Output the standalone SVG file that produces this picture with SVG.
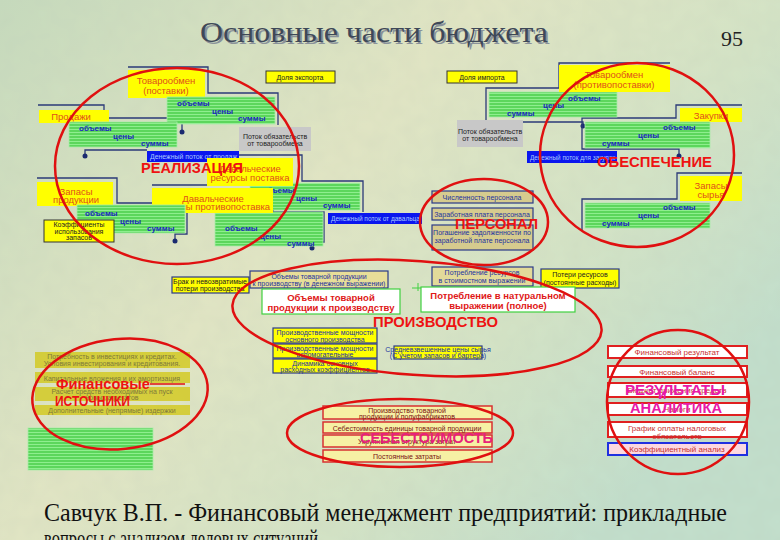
<svg xmlns="http://www.w3.org/2000/svg" width="780" height="540" viewBox="0 0 780 540">
<defs>
<linearGradient id="bg" x1="0" y1="0" x2="1" y2="0.6">
<stop offset="0" stop-color="#c6dbbd"/>
<stop offset="0.45" stop-color="#e2e6c4"/>
<stop offset="0.75" stop-color="#d4e4c6"/>
<stop offset="1" stop-color="#c2dfcc"/>
</linearGradient>
<pattern id="stripes" width="8" height="3" patternUnits="userSpaceOnUse">
<rect width="8" height="3" fill="#5cd65c"/>
<rect width="8" height="1" fill="#8eee8e"/>
</pattern>
<filter id="tex" x="0" y="0" width="100%" height="100%">
<feTurbulence type="fractalNoise" baseFrequency="0.06" numOctaves="2" seed="3"/>
<feColorMatrix values="0 0 0 0 0.5  0 0 0 0 0.55  0 0 0 0 0.45  0 0 0 0.18 0"/>
</filter>
<style>
.frame{fill:none;stroke:#2b3a78;stroke-width:1.3}
.dot{fill:#1a2a70}
.green{fill:url(#stripes);stroke:#a8eca8;stroke-width:0.8}
.gt{font-family:"Liberation Sans",Arial,sans-serif;font-size:8px;font-weight:bold;fill:#1c28c0}
.tab{fill:#ffff00}
.tt{font-family:"Liberation Sans",Arial,sans-serif;font-size:9.5px;fill:#e0501a;text-anchor:middle}
.ybox{fill:#ffff00;stroke:#333;stroke-width:1}
.grey{fill:#c8c8c8}
.st{font-family:"Liberation Sans",Arial,sans-serif;font-size:7px;fill:#222;text-anchor:middle}
.blue{fill:#0a16ee}
.bt{font-family:"Liberation Sans",Arial,sans-serif;font-size:7px;fill:#a8c8ff}
.ring{fill:none;stroke:#e01010;stroke-width:2.5}
.big{font-family:"Liberation Sans",Arial,sans-serif;font-size:14px;font-weight:bold;fill:#ee1212}
.mag{font-family:"Liberation Sans",Arial,sans-serif;font-size:14px;font-weight:bold;fill:#e81aa8}
.pbox{fill:#d6cb8e;stroke:#2b3a88;stroke-width:1.2}
.pt{font-family:"Liberation Sans",Arial,sans-serif;font-size:7px;fill:#2333a0;text-anchor:middle}
.prbox{fill:#ffff00;stroke:#2b3a88;stroke-width:1.2}
.wbox{fill:#ffffff;stroke:#40d040;stroke-width:1.2}
.wt{font-family:"Liberation Sans",Arial,sans-serif;font-size:9.5px;font-weight:bold;fill:#e01818;text-anchor:middle}
.fbox{fill:#d2c81a;fill-opacity:0.8}
.ft{font-family:"Liberation Sans",Arial,sans-serif;font-size:7px;fill:#7e7a3a;text-anchor:middle}
.rbox{fill:#ffffff;stroke:#e02020;stroke-width:2}
.rt{font-family:"Liberation Sans",Arial,sans-serif;font-size:8px;fill:#c83030;text-anchor:middle}
.sbox{fill:#f6f0a4;stroke:#d83030;stroke-width:1.5}
.sst{font-family:"Liberation Sans",Arial,sans-serif;font-size:7px;fill:#7a1010;text-anchor:middle}
</style>
</defs>

<rect width="780" height="540" fill="url(#bg)"/>
<rect width="780" height="540" filter="url(#tex)"/>

<g id="title">
<text x="376" y="44" font-family="'Liberation Serif','Times New Roman',serif" font-size="30" fill="#8a929a" text-anchor="middle" textLength="348" lengthAdjust="spacingAndGlyphs">Основные части бюджета</text>
<text x="374" y="42" font-family="'Liberation Serif','Times New Roman',serif" font-size="30" fill="#3e4858" text-anchor="middle" textLength="348" lengthAdjust="spacingAndGlyphs">Основные части бюджета</text>
<text x="732" y="46" font-family="'Liberation Serif','Times New Roman',serif" font-size="22" fill="#222" text-anchor="middle">95</text>
</g>

<g id="connectors">
<polyline class="frame" points="128,67 208,67 208,93 278,93 278,125"/>
<polyline class="frame" points="38,105 104,105 104,118 182,118 182,132"/>
<circle class="dot" cx="182" cy="132" r="2.5"/>
<polyline class="frame" points="85,156 85,150 147,150"/>
<circle class="dot" cx="85" cy="156" r="2.5"/>
<polyline class="frame" points="207,155 302,155 302,181 363,181 363,212"/>
<polyline class="frame" points="152,185 273,185 273,212 324,212 324,242 312,242 312,248"/>
<circle class="dot" cx="312" cy="248" r="2.5"/>
<polyline class="frame" points="37,178 117,178 117,203 187,203 187,234 175,234 175,241"/>
<circle class="dot" cx="175" cy="241" r="2.5"/>
<polyline class="frame" points="670,63 559,63 559,88 486,88 486,122 583,122 583,126"/>
<circle class="dot" cx="583" cy="126" r="2.5"/>
<polyline class="frame" points="742,105 676,105 676,118 582,118 582,149 679,149 679,156"/>
<circle class="dot" cx="679" cy="156" r="2.5"/>
<polyline class="frame" points="742,173 677,173 677,199 582,199 582,230"/>
<line x1="418" y1="283" x2="418" y2="291" stroke="#40d040" stroke-width="1"/>
<line x1="412" y1="288" x2="425" y2="288" stroke="#40d040" stroke-width="1"/>
</g>

<g id="tovaroobmen-postavki">
<rect class="tab" x="128" y="70" width="77" height="28"/>
<text class="tt" x="166" y="84">Товарообмен</text>
<text class="tt" x="166" y="94">(поставки)</text>
</g>
<g id="green-postavki">
<rect class="green" x="167" y="97" width="108" height="27"/>
<text class="gt" x="177" y="106">объемы</text>
<text class="gt" x="212" y="114">цены</text>
<text class="gt" x="238" y="121">суммы</text>
</g>
<g id="prodazhi">
<rect class="tab" x="39" y="110" width="70" height="13"/>
<text class="tt" x="71" y="120">Продажи</text>
</g>
<g id="green-prodazhi">
<rect class="green" x="69" y="122" width="108" height="25"/>
<text class="gt" x="79" y="131">объемы</text>
<text class="gt" x="113" y="139">цены</text>
<text class="gt" x="141" y="146">суммы</text>
</g>
<g id="potok-prodazh">
<rect class="blue" x="147" y="151" width="92" height="11"/>
<text class="bt" x="150" y="159" textLength="87" lengthAdjust="spacingAndGlyphs">Денежный поток от продаж</text>
</g>
<g id="obyazatelstva-left">
<rect class="grey" x="239" y="127" width="72" height="24"/>
<text class="st" x="275" y="138.5">Поток обязательств</text>
<text class="st" x="275" y="145.5">от товарообмена</text>
</g>
<g id="dolya-eksporta">
<rect class="ybox" x="266" y="71" width="69" height="12"/>
<text class="st" x="300" y="80">Доля экспорта</text>
</g>
<g id="green-postavka-dav">
<rect class="green" x="250" y="183" width="110" height="27"/>
<text class="gt" x="262" y="193">объемы</text>
<text class="gt" x="296" y="201">цены</text>
<text class="gt" x="323" y="208">суммы</text>
</g>
<g id="daval-postavka">
<rect class="tab" x="207" y="158" width="86" height="28"/>
<text class="tt" x="250" y="172">Давальческие</text>
<text class="tt" x="250" y="181">ресурсы поставка</text>
</g>
<g id="green-daval-protiv">
<rect class="green" x="215" y="212" width="108" height="34"/>
<text class="gt" x="225" y="231">объемы</text>
<text class="gt" x="260" y="239">цены</text>
<text class="gt" x="287" y="246">суммы</text>
</g>
<g id="daval-protiv">
<rect class="tab" x="152" y="188" width="121" height="25"/>
<text class="tt" x="213" y="202">Давальческие</text>
<text class="tt" x="213" y="210">ресурсы противопоставка</text>
</g>
<g id="potok-davalca">
<rect class="blue" x="328" y="213" width="94" height="11"/>
<text class="bt" x="331" y="221" textLength="89" lengthAdjust="spacingAndGlyphs">Денежный поток от давальца</text>
</g>
<g id="zapasy-produkcii">
<rect class="tab" x="37" y="182" width="76" height="24"/>
<text class="tt" x="76" y="195">Запасы</text>
<text class="tt" x="76" y="203">продукции</text>
</g>
<g id="green-zapasy">
<rect class="green" x="77" y="205" width="108" height="28"/>
<text class="gt" x="85" y="216">объемы</text>
<text class="gt" x="120" y="224">цены</text>
<text class="gt" x="147" y="231">суммы</text>
</g>
<g id="koef-zapasov">
<rect class="ybox" x="44" y="220" width="70" height="22"/>
<text class="st" x="79" y="227" font-size="6.5">Коэффициенты</text>
<text class="st" x="79" y="233.5" font-size="6.5">использования</text>
<text class="st" x="79" y="240" font-size="6.5">запасов</text>
</g>

<g id="dolya-importa">
<rect class="ybox" x="447" y="71" width="70" height="12"/>
<text class="st" x="482" y="80">Доля импорта</text>
</g>
<g id="green-protiv">
<rect class="green" x="489" y="92" width="128" height="25"/>
<text class="gt" x="568" y="101">объемы</text>
<text class="gt" x="543" y="108">цены</text>
<text class="gt" x="507" y="116">суммы</text>
</g>
<g id="tovaroobmen-protiv">
<rect class="tab" x="559" y="65" width="111" height="27"/>
<text class="tt" x="614" y="78">Товарообмен</text>
<text class="tt" x="614" y="88">(противопоставки)</text>
</g>
<g id="obyazatelstva-right">
<rect class="grey" x="457" y="120" width="66" height="27"/>
<text class="st" x="490" y="133.5">Поток обязательств</text>
<text class="st" x="490" y="140.5">от товарообмена</text>
</g>
<g id="zakupki">
<rect class="tab" x="680" y="108" width="62" height="14"/>
<text class="tt" x="711" y="119">Закупки</text>
</g>
<g id="green-zakupki">
<rect class="green" x="585" y="122" width="125" height="26"/>
<text class="gt" x="663" y="130">объемы</text>
<text class="gt" x="638" y="138">цены</text>
<text class="gt" x="602" y="146">суммы</text>
</g>
<g id="potok-zakupok">
<rect class="blue" x="527" y="151" width="90" height="12"/>
<text class="bt" x="530" y="159.5" textLength="85" lengthAdjust="spacingAndGlyphs">Денежный поток для закупок</text>
</g>
<g id="zapasy-syrya">
<rect class="tab" x="680" y="176" width="62" height="25"/>
<text class="tt" x="711" y="189">Запасы</text>
<text class="tt" x="711" y="198">сырья</text>
</g>
<g id="green-syrye">
<rect class="green" x="585" y="203" width="125" height="25"/>
<text class="gt" x="663" y="210">объемы</text>
<text class="gt" x="638" y="218">цены</text>
<text class="gt" x="602" y="226">суммы</text>
</g>

<g id="personal">
<rect class="pbox" x="432" y="191" width="101" height="12"/>
<text class="pt" x="482" y="199.5">Численность персонала</text>
<rect class="pbox" x="432" y="208" width="101" height="12"/>
<text class="pt" x="482" y="216.5">Заработная плата персонала</text>
<rect class="pbox" x="432" y="225" width="101" height="25"/>
<text class="pt" x="482" y="235">Погашение задолженности по</text>
<text class="pt" x="482" y="243">заработной плате персонала</text>
</g>

<g id="potreblenie-stoim">
<rect class="pbox" x="432" y="267" width="101" height="19" style="fill:#e2da9a"/>
<text class="pt" x="482" y="275">Потребление ресурсов</text>
<text class="pt" x="482" y="283">в стоимостном выражении</text>
</g>
<g id="poteri">
<rect class="prbox" x="541" y="269" width="78" height="19"/>
<text class="st" x="580" y="277">Потери ресурсов</text>
<text class="st" x="580" y="285">(постоянные расходы)</text>
</g>
<g id="brak">
<rect class="prbox" x="172" y="277" width="77" height="16"/>
<text class="st" x="210" y="284">Брак и невозвратимые</text>
<text class="st" x="210" y="291">потери производства</text>
</g>
<g id="obemy-den">
<rect class="pbox" x="250" y="271" width="138" height="17" style="fill:#e8de98"/>
<text class="pt" x="319" y="278.5">Объемы товарной продукции</text>
<text class="pt" x="319" y="286">к производству (в денежном выражении)</text>
</g>
<g id="obemy-k-proizv">
<rect class="wbox" x="262" y="289" width="138" height="25"/>
<text class="wt" x="331" y="301">Объемы товарной</text>
<text class="wt" x="331" y="311">продукции к производству</text>
</g>
<g id="potreblenie-nat">
<rect class="wbox" x="421" y="287" width="154" height="25"/>
<text class="wt" x="498" y="299">Потребление в натуральном</text>
<text class="wt" x="498" y="309">выражении (полное)</text>
</g>

<g id="proizvodstvo">
<rect class="prbox" x="273" y="328" width="104" height="15"/>
<text class="pt" x="325" y="335">Производственные мощности</text>
<text class="pt" x="325" y="342">основного производства</text>
<rect class="prbox" x="273" y="344" width="104" height="14"/>
<text class="pt" x="325" y="350.5">Производственные мощности</text>
<text class="pt" x="325" y="357">вспомогательные</text>
<rect class="prbox" x="273" y="359" width="104" height="14"/>
<text class="pt" x="325" y="365.5">Динамика основных</text>
<text class="pt" x="325" y="372">расходных коэффициентов</text>
</g>
<g id="srednevzv">
<rect class="prbox" x="394" y="346" width="88" height="13"/>
<text class="pt" x="438" y="352" font-size="6">Средневзвешенные цены сырья</text>
<text class="pt" x="438" y="358" font-size="6">(С учетом запасов и бартера)</text>
</g>

<g id="finansy">
<rect class="fbox" x="35" y="352" width="155" height="16"/>
<text class="ft" x="112" y="358.5">Потребность в инвестициях и кредитах.</text>
<text class="ft" x="112" y="365.5">Условия инвестирования и кредитования.</text>
<rect class="fbox" x="35" y="372" width="155" height="11"/>
<text class="ft" x="112" y="380.5">Капитальные вложения и их амортизация</text>
<rect class="fbox" x="35" y="387" width="155" height="14"/>
<text class="ft" x="112" y="393.5">Расчет средств необходимых на пуск</text>
<text class="ft" x="112" y="400">новых агрегатов</text>
<rect class="fbox" x="35" y="405" width="155" height="10"/>
<text class="ft" x="112" y="413">Дополнительные (непрямые) издержки</text>
</g>
<g id="green-bottom">
<rect class="green" x="28" y="428" width="125" height="42"/>
</g>

<g id="rezultaty">
<rect class="rbox" x="608" y="346" width="139" height="12"/>
<text class="rt" x="677" y="355">Финансовый результат</text>
<rect class="rbox" x="608" y="366" width="139" height="11"/>
<text class="rt" x="677" y="375">Финансовый баланс</text>
<rect class="rbox" x="608" y="383" width="139" height="14"/>
<text class="rt" x="677" y="393">Бюджет движения средств</text>
<rect class="rbox" x="608" y="403" width="139" height="12"/>
<text class="rt" x="677" y="412">Налоги</text>
<rect class="rbox" x="608" y="422" width="139" height="15"/>
<text class="rt" x="677" y="431">График оплаты налоговых</text>
<text class="rt" x="677" y="439">обязательств</text>
<rect x="608" y="443" width="139" height="12" fill="#fcd8e0" stroke="#2030e0" stroke-width="2"/>
<text class="rt" x="677" y="452">Коэффициентный анализ</text>
</g>

<g id="sebestoimost">
<rect class="sbox" x="323" y="406" width="169" height="13"/>
<text class="sst" x="407" y="412.5">Производство товарной</text>
<text class="sst" x="407" y="419">продукции и полуфабрикатов</text>
<rect class="sbox" x="323" y="422" width="169" height="11"/>
<text class="sst" x="407" y="430.5">Себестоимость единицы товарной продукции</text>
<rect class="sbox" x="323" y="435" width="169" height="12"/>
<text class="sst" x="407" y="444">Укрупненная структура затрат</text>
<rect class="sbox" x="323" y="450" width="169" height="12"/>
<text class="sst" x="407" y="459">Постоянные затраты</text>
</g>

<g id="rings">
<ellipse class="ring" cx="177" cy="166" rx="122" ry="98"/>
<ellipse class="ring" cx="637" cy="155" rx="97" ry="92"/>
<ellipse class="ring" cx="484" cy="222" rx="64" ry="43"/>
<ellipse class="ring" cx="417" cy="318" rx="185" ry="57" transform="rotate(4 417 318)"/>
<ellipse class="ring" cx="120" cy="394" rx="88" ry="55" transform="rotate(-6 120 394)"/>
<ellipse class="ring" cx="678" cy="402" rx="71" ry="72"/>
<ellipse class="ring" cx="400" cy="433" rx="113" ry="34"/>
<line x1="150" y1="384" x2="185" y2="384" stroke="#e01010" stroke-width="1.5"/>
</g>

<g id="labels">
<text class="big" x="141" y="173" textLength="102" lengthAdjust="spacingAndGlyphs">РЕАЛИЗАЦИЯ</text>
<text class="big" x="597" y="167" textLength="115" lengthAdjust="spacingAndGlyphs">ОБЕСПЕЧЕНИЕ</text>
<text class="big" x="455" y="229" textLength="83" lengthAdjust="spacingAndGlyphs">ПЕРСОНАЛ</text>
<text class="big" x="373" y="327" textLength="125" lengthAdjust="spacingAndGlyphs">ПРОИЗВОДСТВО</text>
<text class="big" x="56" y="389" textLength="94" lengthAdjust="spacingAndGlyphs">Финансовые</text>
<text class="big" x="55" y="406" textLength="75" lengthAdjust="spacingAndGlyphs">ИСТОЧНИКИ</text>
<text class="mag" x="625" y="395" textLength="100" lengthAdjust="spacingAndGlyphs">РЕЗУЛЬТАТЫ</text>
<text class="mag" x="658" y="399" font-size="6">и</text>
<text class="mag" x="630" y="413" textLength="92" lengthAdjust="spacingAndGlyphs">АНАЛИТИКА</text>
<text class="mag" x="360" y="443" textLength="133" lengthAdjust="spacingAndGlyphs" style="fill:#e8207a">СЕБЕСТОИМОСТЬ</text>
</g>

<g id="footer">
<text x="44" y="521" font-family="'Liberation Serif','Times New Roman',serif" font-size="25" fill="#111" textLength="683" lengthAdjust="spacingAndGlyphs">Савчук В.П. - Финансовый менеджмент предприятий: прикладные</text>
<text x="44" y="547" font-family="'Liberation Serif','Times New Roman',serif" font-size="25" fill="#111" textLength="274" lengthAdjust="spacingAndGlyphs">вопросы с анализом деловых ситуаций</text>
</g>
</svg>
